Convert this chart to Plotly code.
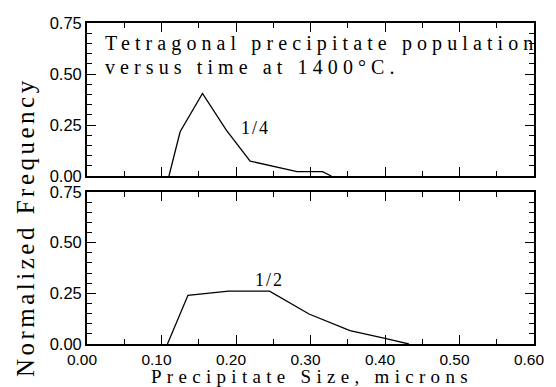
import plotly.graph_objects as go
from plotly.subplots import make_subplots

# Data: t = 1/4 (top panel)
size_q = [0.11, 0.125, 0.155, 0.187, 0.219, 0.249, 0.282, 0.316, 0.328]
freq_q = [0.0, 0.217, 0.405, 0.225, 0.073, 0.049, 0.021, 0.021, 0.0]
# Data: t = 1/2 (bottom panel)
size_h = [0.108, 0.1355, 0.19, 0.245, 0.298, 0.353, 0.40, 0.432]
freq_h = [0.0, 0.24, 0.261, 0.261, 0.148, 0.066, 0.028, 0.0]

x_ticks = [0.0, 0.1, 0.2, 0.3, 0.4, 0.5, 0.6]
x_ticklabels = ["0.00", "0.10", "0.20", "0.30", "0.40", "0.50", "0.60"]
y_ticks = [0.0, 0.25, 0.5, 0.75]
y_ticklabels = ["0.00", "0.25", "0.50", "0.75"]

W, H = 556, 387
L, R, T, B = 87, 14, 23, 43
ph = H - T - B

def py(pix):
    return (H - B - pix) / ph

def px(pix):
    return (pix - L) / (W - L - R)

def spaced(s, sp):
    return '<span style="letter-spacing:%.1fpx">%s</span>' % (sp, s)

fig = make_subplots(rows=2, cols=1, shared_xaxes=False, vertical_spacing=0.0)

fig.add_trace(go.Scatter(x=size_q, y=freq_q, mode="lines",
                         line=dict(color="black", width=1.3), showlegend=False), row=1, col=1)
fig.add_trace(go.Scatter(x=size_h, y=freq_h, mode="lines",
                         line=dict(color="black", width=1.3), showlegend=False), row=2, col=1)

tickfont_y = dict(family="Liberation Sans, Arial, sans-serif", size=16.5, color="black")
tickfont_x = dict(family="Liberation Sans, Arial, sans-serif", size=15.5, color="black")
serif = "Liberation Serif, Times New Roman, serif"

common_x = dict(range=[0, 0.6], tickvals=x_ticks, ticktext=x_ticklabels,
                ticks="inside", ticklen=9, tickwidth=1.2, tickcolor="black",
                minor=dict(ticks="inside", ticklen=5, dtick=0.05, tickwidth=1.2, tickcolor="black"),
                showline=True, linecolor="black", linewidth=1.8, mirror="ticks",
                showgrid=False, zeroline=False, tickfont=tickfont_x)
common_y = dict(range=[0, 0.75], tickvals=y_ticks, ticktext=y_ticklabels,
                ticks="inside", ticklen=9, tickwidth=1.2, tickcolor="black",
                minor=dict(ticks="inside", ticklen=5, dtick=0.05, tickwidth=1.2, tickcolor="black"),
                showline=True, linecolor="black", linewidth=1.8, mirror="ticks",
                showgrid=False, zeroline=False, tickfont=tickfont_y)

fig.update_xaxes(**common_x)
fig.update_yaxes(**common_y)
fig.update_xaxes(showticklabels=False, row=1, col=1)
fig.update_xaxes(ticklabelshift=-5, ticklabelstandoff=0, row=2, col=1)

fig.update_layout(
    width=W, height=H,
    margin=dict(l=L, r=R, t=T, b=B),
    paper_bgcolor="white", plot_bgcolor="white",
    xaxis=dict(domain=[0, 1]),
    yaxis=dict(domain=[py(176), 1]),
    xaxis2=dict(domain=[0, 1]),
    yaxis2=dict(domain=[0, py(192)]),
)

title_lines = ["Tetragonal precipitate population", "versus time at 1400°C."]
for line, yc in zip(title_lines, [43, 67]):
    fig.add_annotation(text=spaced(line, 5.1), xref="paper", yref="paper", x=px(103), y=py(yc),
                       xanchor="left", yanchor="middle", align="left", showarrow=False,
                       font=dict(family=serif, size=20, color="black"))
fig.add_annotation(text=spaced("1/4", 2), xref="x", yref="y", x=0.226, y=0.234,
                   showarrow=False, font=dict(family=serif, size=18, color="black"))
fig.add_annotation(text=spaced("1/2", 2), xref="x2", yref="y2", x=0.245, y=0.316,
                   showarrow=False, font=dict(family=serif, size=18, color="black"))
fig.add_annotation(text=spaced("Normalized Frequency", 3.5), xref="paper", yref="paper",
                   x=px(24), y=py(227), textangle=-90, showarrow=False,
                   xanchor="center", yanchor="middle",
                   font=dict(family=serif, size=25, color="black"))
fig.add_annotation(text=spaced("Precipitate Size, microns", 5.3), xref="paper", yref="paper",
                   x=px(316), y=py(377), showarrow=False,
                   xanchor="center", yanchor="middle",
                   font=dict(family=serif, size=19, color="black"))

fig.write_html("out.html")
